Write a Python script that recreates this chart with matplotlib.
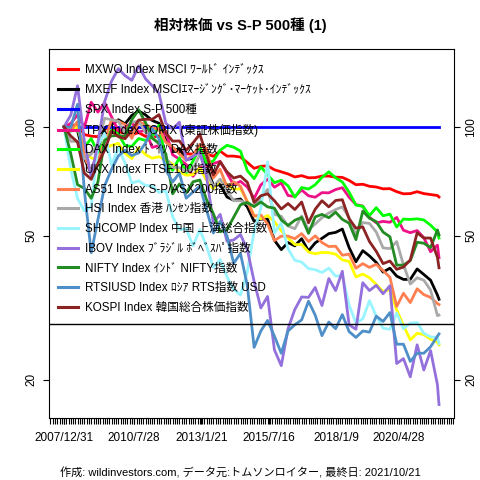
import pandas as pd
import matplotlib
matplotlib.use("Agg")
import matplotlib.pyplot as plt
import matplotlib.dates as mdates
from matplotlib.ticker import FixedLocator, NullLocator, NullFormatter

plt.rcParams['font.family'] = ['Liberation Sans', 'Noto Sans CJK JP']

# quarter ends 2007/12/31 .. 2021/9/30, then the last day 2021/10/21
dates = list(pd.date_range("2007-12-31", "2021-09-30", freq="QE")) + [pd.Timestamp("2021-10-21")]

# relative price vs S&P 500 (USD), 2007/12/31 = 100
mxwo = [100, 100.9, 101.1, 95.2, 94.2, 93.9, 98.6, 99.7, 97.1, 95.7, 95.0, 96.4, 94.1,
        93.5, 94.4, 92.4, 86.7, 86.0, 84.2, 84.1, 86.9, 84.3, 82.9, 85.7, 83.0,
        83.0, 82.5, 79.7, 76.8, 77.8, 78.0, 76.1, 75.1, 74.1, 72.7, 73.3, 72.3,
        72.4, 73.1, 73.1, 72.6, 72.5, 71.1, 69.2, 69.4, 68.5, 68.2, 67.4, 67.5,
        66.2, 65.3, 65.4, 66.2, 65.4, 65.0, 64.6, 64.0]
mxef = [100, 98.5, 97.6, 81.9, 74.2, 87.3, 98.8, 101.5, 104.6, 101.9, 107.5, 110.6, 107.9,
        104.1, 102.3, 91.8, 85.8, 87.1, 81.1, 81.9, 87.3, 77.8, 69.0, 69.2, 64.0,
        62.7, 63.2, 60.1, 54.8, 55.6, 55.6, 48.6, 45.8, 47.9, 46.9, 49.1, 45.4,
        47.8, 49.2, 50.7, 51.1, 52.2, 46.4, 42.4, 45.5, 44.0, 42.2, 39.7, 40.7,
        38.7, 37.9, 37.9, 40.5, 39.1, 37.7, 34.3, 33.4]
spx = [100.0] * len(dates)
tpx = [100, 102.2, 107.9, 99.7, 116.9, 109.8, 116.6, 106.6, 97.5, 99.6, 102.6, 96.8, 97.8,
       87.7, 88.8, 97.2, 83.7, 81.4, 78.7, 73.0, 77.4, 77.8, 79.1, 80.3, 74.4,
       69.2, 70.7, 68.2, 63.4, 69.1, 71.7, 68.1, 70.0, 64.6, 64.2, 66.9, 64.5,
       63.9, 65.8, 65.7, 67.1, 67.9, 63.9, 61.0, 60.4, 56.3, 54.3, 54.8, 54.5,
       56.2, 51.8, 51.0, 51.7, 49.4, 45.2, 47.1, 43.5]
dax = [100, 97.3, 98.5, 87.9, 92.8, 84.7, 91.6, 98.0, 95.5, 88.7, 88.3, 92.8, 91.7,
       93.9, 101.0, 81.3, 75.8, 82.1, 74.4, 80.4, 87.8, 79.5, 80.4, 86.2, 88.9,
       87.8, 85.7, 75.7, 71.9, 77.5, 73.8, 70.1, 71.2, 68.7, 63.9, 68.0, 67.3,
       69.2, 72.5, 75.1, 72.3, 70.4, 66.0, 60.8, 60.3, 56.9, 59.8, 56.8, 57.4,
       52.9, 55.6, 55.5, 55.7, 55.3, 53.5, 51.2, 49.3]
ukx = [100, 98.0, 100.2, 85.8, 82.1, 80.7, 87.2, 88.9, 90.0, 84.5, 81.7, 87.5, 83.8,
       81.9, 82.7, 81.0, 78.8, 75.1, 73.5, 73.8, 77.0, 71.2, 67.4, 71.2, 69.3,
       67.3, 67.4, 62.4, 56.9, 55.7, 56.9, 54.7, 51.6, 49.3, 47.3, 47.3, 45.1,
       44.6, 45.0, 44.9, 44.5, 42.9, 42.5, 38.5, 39.2, 38.3, 36.7, 35.1, 35.5,
       31.2, 28.3, 25.8, 26.9, 26.7, 25.9, 25.4, 25.0]
as51 = [100, 97.6, 103.4, 82.9, 74.7, 80.7, 91.3, 104.5, 103.6, 101.4, 92.9, 103.2, 101.6,
        99.2, 98.8, 90.6, 88.0, 84.2, 80.9, 83.5, 89.4, 87.1, 72.2, 76.3, 68.2,
        70.5, 68.5, 62.0, 56.7, 57.1, 53.9, 48.5, 49.9, 49.9, 49.1, 50.7, 48.2,
        50.0, 47.9, 46.7, 46.8, 44.2, 44.5, 40.7, 41.9, 40.9, 41.7, 40.1, 38.4,
        31.9, 34.7, 32.7, 35.7, 34.4, 33.8, 32.5, 32.3]
hsi = [100, 91.2, 91.1, 81.6, 84.1, 89.9, 105.6, 104.6, 103.6, 95.9, 103.1, 103.5, 96.6,
       93.7, 89.5, 82.1, 77.3, 77.1, 75.3, 76.4, 83.9, 75.1, 68.4, 71.7, 66.6,
       62.5, 62.5, 61.4, 60.5, 63.6, 67.2, 57.3, 56.6, 53.2, 52.3, 56.7, 51.9,
       53.9, 56.1, 57.8, 59.1, 60.1, 56.2, 50.4, 54.4, 54.1, 51.2, 46.3, 46.1,
       48.2, 41.6, 36.8, 38.3, 37.7, 35.4, 30.1, 30.2]
shcomp = [100, 76.3, 63.4, 58.6, 60.1, 88.8, 96.0, 78.4, 87.7, 79.3, 69.9, 70.9, 68.9,
          68.7, 65.9, 66.6, 56.5, 52.0, 52.4, 46.9, 52.0, 46.8, 40.9, 43.0, 38.5,
          35.6, 34.3, 39.8, 51.5, 59.6, 80.0, 50.9, 54.3, 46.0, 42.8, 42.3, 40.6,
          40.3, 39.6, 40.7, 38.7, 38.9, 32.2, 28.7, 29.5, 33.1, 30.0, 27.8, 27.6,
          30.6, 27.7, 28.7, 28.8, 26.9, 26.3, 26.2, 25.2]
ibov = [100, 107.7, 129.8, 91.0, 72.7, 90.5, 117.5, 133.7, 144.7, 138.4, 134.4, 147.3, 135.7,
        129.8, 123.8, 102.3, 98.7, 103.0, 80.8, 82.8, 85.3, 72.8, 54.2, 57.3, 48.3,
        48.7, 50.4, 45.8, 37.4, 31.6, 34.0, 24.2, 21.9, 27.7, 31.3, 33.9, 33.8,
        36.0, 32.1, 38.1, 35.3, 39.9, 28.4, 27.6, 37.1, 35.3, 36.5, 34.6, 36.4,
        22.2, 22.9, 20.4, 25.0, 21.3, 24.1, 19.4, 17.1]
nifty = [100, 84.3, 69.2, 67.6, 63.5, 70.4, 91.7, 94.4, 94.6, 94.0, 104.7, 111.4, 102.8,
         93.0, 90.1, 84.3, 65.3, 69.5, 65.6, 70.5, 71.3, 62.9, 57.6, 51.3, 52.0,
         56.3, 60.9, 61.8, 60.2, 62.0, 60.1, 59.6, 55.3, 53.4, 55.2, 56.2, 50.8,
         56.4, 57.3, 56.1, 58.1, 55.5, 54.2, 48.8, 58.5, 55.9, 54.7, 51.2, 49.7,
         41.5, 41.5, 42.7, 48.0, 47.7, 46.4, 51.9, 50.3]
rtsiusd = [100, 99.6, 115.4, 66.6, 44.9, 55.4, 68.8, 76.3, 83.1, 86.2, 83.3, 84.7, 90.2,
           98.8, 92.7, 76.0, 70.4, 74.5, 63.5, 66.1, 68.6, 58.9, 50.9, 54.8, 50.0,
           42.0, 44.7, 36.5, 24.6, 27.3, 29.2, 26.4, 23.7, 27.3, 28.4, 29.3, 33.0,
           30.2, 26.5, 28.9, 27.7, 30.3, 27.2, 26.2, 27.3, 27.1, 30.0, 29.0, 30.7,
           25.1, 25.1, 22.5, 23.7, 23.7, 24.7, 26.4, 26.8]
kospi = [100, 94.3, 90.8, 74.5, 71.6, 79.2, 86.1, 97.3, 93.9, 92.7, 97.7, 104.4, 104.9,
         104.9, 108.0, 96.2, 91.3, 91.4, 86.1, 90.3, 95.4, 83.3, 73.6, 80.1, 75.1,
         72.2, 73.1, 70.3, 61.8, 64.5, 65.3, 62.5, 59.3, 61.4, 59.1, 62.0, 54.3,
         59.2, 62.5, 60.1, 62.6, 62.9, 55.7, 52.5, 52.9, 48.2, 45.3, 41.9, 42.6,
         40.4, 41.0, 42.9, 51.0, 49.3, 49.3, 43.6, 40.8]

series = [mxwo, mxef, spx, tpx, dax, ukx, as51, hsi, shcomp, ibov, nifty, rtsiusd, kospi]
labels = ["MXWO Index MSCI ﾜｰﾙﾄﾞ ｲﾝﾃﾞｯｸｽ",
          "MXEF Index MSCIｴﾏｰｼﾞﾝｸﾞ･ﾏｰｹｯﾄ･ｲﾝﾃﾞｯｸｽ",
          "SPX Index S-P 500種",
          "TPX Index TOPIX (東証株価指数)",
          "DAX Index ﾄﾞｲﾂ DAX指数",
          "UKX Index FTSE100指数",
          "AS51 Index S-P/ASX200指数",
          "HSI Index 香港 ﾊﾝｾﾝ指数",
          "SHCOMP Index 中国 上海総合指数",
          "IBOV Index ﾌﾞﾗｼﾞﾙ ﾎﾞﾍﾞｽﾊﾟ指数",
          "NIFTY Index ｲﾝﾄﾞ NIFTY指数",
          "RTSIUSD Index ﾛｼｱ RTS指数 USD",
          "KOSPI Index 韓国総合株価指数"]
colors = ["#FF0000", "#000000", "#0000FF", "#EE1289", "#00FF00", "#FFFF00", "#FF7F50",
          "#A9A9A9", "#98F5FF", "#9370DB", "#228B22", "#4F8FC8", "#8B2323"]

ref_level = 28.5
xtick_dates = ["2007-12-31", "2010-07-28", "2013-01-21", "2015-07-16", "2018-01-09", "2020-04-28"]
xtick_labels = ["2007/12/31", "2010/7/28", "2013/1/21", "2015/7/16", "2018/1/9", "2020/4/28"]
yticks = [20, 50, 100]

fig = plt.figure(figsize=(4.8, 4.8), dpi=100)
ax = fig.add_axes([49 / 480, 62 / 480, 405 / 480, 369 / 480])

for vals, lab, col in zip(series, labels, colors):
    ax.plot(dates, vals, color=col, lw=2, label=lab)
ax.axhline(ref_level, color="black", lw=1, zorder=5)

ax.set_yscale("log")
ax.set_ylim(15.7, 164)
x0 = mdates.date2num(dates[0])
x1 = mdates.date2num(dates[-1])
pad = (x1 - x0) * 0.04
ax.set_xlim(x0 - pad, x1 + pad)

ax.yaxis.set_major_locator(FixedLocator(yticks))
ax.yaxis.set_minor_locator(NullLocator())
ax.set_yticklabels([str(v) for v in yticks])
ax.tick_params(axis="y", which="both", left=True, right=True, labelleft=True,
               labelright=True, length=4.3, width=0.8, pad=4, labelsize=8.5)
for t in ax.get_yticklabels():
    t.set_rotation(90)
    t.set_va("center")

ax.xaxis.set_major_locator(FixedLocator(mdates.date2num(pd.to_datetime(xtick_dates))))
ax.set_xticklabels(xtick_labels)
ax.xaxis.set_minor_locator(mdates.MonthLocator())
ax.xaxis.set_minor_formatter(NullFormatter())
ax.tick_params(axis="x", which="both", length=4.3, width=0.8, pad=5.5, labelsize=8.5)

leg = ax.legend(loc="upper left", bbox_to_anchor=(0.022, 0.958), frameon=False,
                fontsize=8.4, handlelength=1.75, handletextpad=0.6,
                labelspacing=0.66, borderpad=0, borderaxespad=0)
for h in leg.get_lines():
    h.set_linewidth(2.2)

fig.text(0.5, 1 - 25 / 480, "相対株価 vs S-P 500種 (1)", ha="center", va="center",
         fontsize=10.5, fontweight="bold")
fig.text(0.5, 1 - 473 / 480,
         "作成: wildinvestors.com, データ元:トムソンロイター, 最終日: 2021/10/21",
         ha="center", va="center", fontsize=8)

fig.savefig("out.png", dpi=100)
